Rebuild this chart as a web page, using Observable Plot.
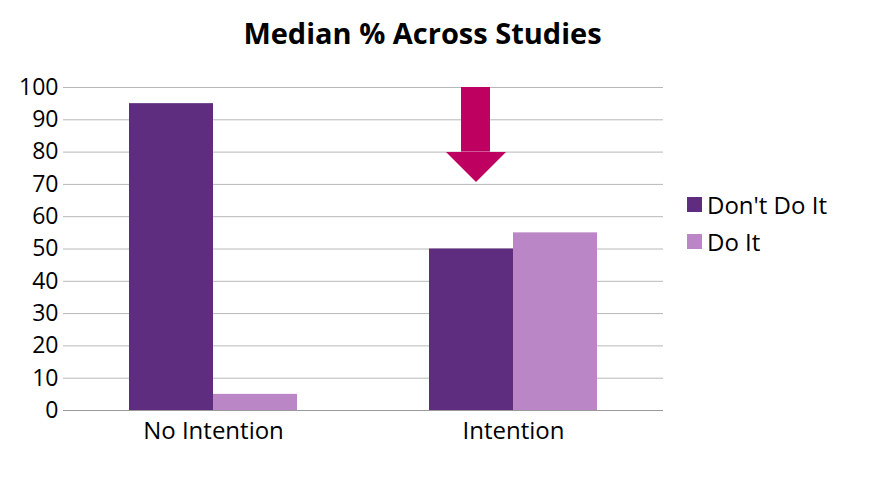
<!DOCTYPE html>
<html>
<head>
<meta charset="utf-8">
<script src="https://cdn.jsdelivr.net/npm/d3@7"></script>
<script src="https://cdn.jsdelivr.net/npm/@observablehq/plot@0.6"></script>
<style>
  body { margin: 0; background: #fff; font-family: "Open Sans", sans-serif; }
  #wrap { position: relative; width: 877px; height: 479px; }
  #title { position: absolute; left: 0; top: 13px; width: 845px; text-align: center; font-weight: bold; font-size: 29px; color: #000; }
  #legend { position: absolute; left: 687px; top: 186px; font-size: 24px; color: #000; }
  .item { display: flex; align-items: center; height: 37px; }
  .sw { width: 15px; height: 15px; margin-right: 5px; }
  svg { position: absolute; left: 0; top: 0; }
  .fxax text { font-size: 24px; }
</style>
</head>
<body>
<div id="wrap">
  <div id="title">Median % Across Studies</div>
  <div id="legend"></div>
</div>
<script>
const categories = ["No Intention", "Intention"];
const series = ["Don't Do It", "Do It"];
const dontDoIt = [95, 50];
const doIt = [5, 55];
const colors = ["#5E2D80", "#BB86C5"];
const yTicks = [0, 10, 20, 30, 40, 50, 60, 70, 80, 90, 100];
// annotation arrow (in y data units)
const arrow = [{cat: "Intention", s: "Don't Do It", top: 100, base: 80}];
const arrowColor = "#BE0060";

const data = [];
categories.forEach((c, i) => {
  data.push({cat: c, s: series[0], v: dontDoIt[i]});
  data.push({cat: c, s: series[1], v: doIt[i]});
});

const headSymbol = {
  draw(ctx, size) {
    const h = Math.sqrt(size / Math.PI);
    ctx.moveTo(-h, 0);
    ctx.lineTo(h, 0);
    ctx.lineTo(0, h);
    ctx.closePath();
  }
};

const chart = Plot.plot({
  width: 877,
  height: 479,
  marginLeft: 63,
  marginRight: 214,
  marginTop: 87,
  marginBottom: 69,
  style: {fontFamily: "Open Sans, sans-serif", fontSize: "23px", color: "#000", background: "transparent", overflow: "visible"},
  fx: {domain: categories, padding: 0, label: null, axis: null},
  x: {domain: series, paddingInner: 0, paddingOuter: 0.765, axis: null},
  y: {domain: [0, 100], label: null, axis: null},
  color: {domain: series, range: colors},
  marks: [
    Plot.ruleY(yTicks, {stroke: "#b8b8b8", strokeWidth: 1}),
    Plot.axisY(yTicks, {tickSize: 0, tickPadding: 5, label: null, fontSize: 23}),
    Plot.axisFx({tickSize: 0, tickPadding: 11, label: null, fontSize: 24, anchor: "bottom"}),
    Plot.barY(data, {fx: "cat", x: "s", y: "v", fill: "s"}),
    Plot.ruleY([0], {stroke: "#999", strokeWidth: 1.2}),
    Plot.ruleX([0], {y1: 0, y2: 100, stroke: "#999", strokeWidth: 1.2, facetAnchor: "left", frameAnchor: "left"}),
    Plot.rectY(arrow, {fx: "cat", x: "s", y1: "base", y2: "top", fill: arrowColor, insetLeft: 32, insetRight: 23}),
    Plot.dot(arrow, {fx: "cat", x: "s", y: "base", symbol: headSymbol, r: 30, fill: arrowColor, dx: 4.5})
  ]
});
document.getElementById("wrap").appendChild(chart);

const legend = document.getElementById("legend");
series.forEach((s, i) => {
  const it = document.createElement("div");
  it.className = "item";
  const sw = document.createElement("div");
  sw.className = "sw";
  sw.style.background = colors[i];
  const t = document.createElement("span");
  t.textContent = s;
  it.appendChild(sw);
  it.appendChild(t);
  legend.appendChild(it);
});
</script>
</body>
</html>
